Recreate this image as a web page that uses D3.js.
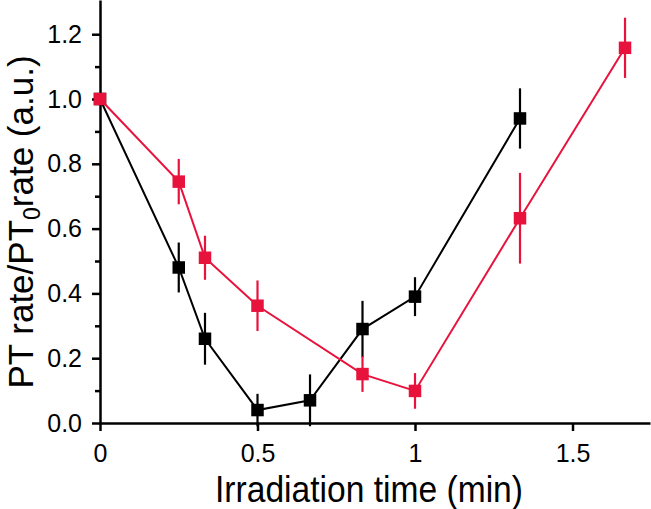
<!DOCTYPE html>
<html><head><meta charset="utf-8">
<script src="https://cdn.jsdelivr.net/npm/d3@7"></script>
<style>html,body{margin:0;padding:0;background:#fff;}svg{display:block;font-family:"Liberation Sans",Arial,sans-serif;}</style>
</head><body>
<svg id="c" width="651" height="509"></svg>
<script>
const blackX = [0, 0.25, 0.3333, 0.5, 0.6667, 0.8333, 1.0, 1.3333];
const blackY = [1.0, 0.48, 0.26, 0.04, 0.07, 0.29, 0.39, 0.94];
const blackErr = [0, 0.077, 0.08, 0.05, 0.08, 0.087, 0.06, 0.093];
const redX = [0, 0.25, 0.3333, 0.5, 0.8333, 1.0, 1.3333, 1.6667];
const redY = [1.0, 0.745, 0.51, 0.362, 0.151, 0.099, 0.632, 1.158];
const redErr = [0, 0.07, 0.068, 0.078, 0.055, 0.055, 0.14, 0.093];
const xTicks = [0, 0.5, 1, 1.5];
const xTickLabels = ["0", "0.5", "1", "1.5"];
const yTicks = [0, 0.2, 0.4, 0.6, 0.8, 1.0, 1.2];
const yMinorTicks = [0.1, 0.3, 0.5, 0.7, 0.9, 1.1];

const svg = d3.select("#c");
const L = 100, R = 650, T = 0, B = 423;
const x = d3.scaleLinear().domain([0, 1.746]).range([L, R]);
const y = d3.scaleLinear().domain([0, 1.3056]).range([B, T]);

// axes
const xa = svg.append("g").attr("transform", `translate(0,${B})`)
  .call(d3.axisBottom(x).tickValues(xTicks).tickFormat((d,i)=>xTickLabels[i]).tickSize(8).tickPadding(13).tickSizeOuter(0));
const ya = svg.append("g").attr("transform", `translate(${L},0)`)
  .call(d3.axisLeft(y).tickValues(yTicks).tickFormat(d3.format(".1f")).tickSize(8).tickPadding(10).tickSizeOuter(0));
svg.append("g").attr("transform", `translate(${L},0)`)
  .call(d3.axisLeft(y).tickValues(yMinorTicks).tickFormat("").tickSize(5).tickSizeOuter(0))
  .select(".domain").remove();
svg.selectAll(".domain").attr("stroke", "#000").attr("stroke-width", 2.5);
svg.selectAll(".tick line").attr("stroke", "#000").attr("stroke-width", 2.5);
svg.selectAll(".tick text").style("font-size", "25px").attr("fill", "#000")
  .style("font-family", "'Liberation Sans',Arial,sans-serif");
xa.selectAll(".tick text").attr("dy", "0.71em");

function series(xs, ys, es, color) {
  const pts = xs.map((d,i)=>({x:d, y:ys[i], e:es[i]}));
  const g = svg.append("g");
  g.append("path").datum(pts)
    .attr("d", d3.line().x(d=>x(d.x)).y(d=>y(d.y)))
    .attr("fill", "none").attr("stroke", color).attr("stroke-width", 2);
  g.selectAll("line.err").data(pts.filter(d=>d.e>0)).join("line")
    .attr("x1", d=>x(d.x)).attr("x2", d=>x(d.x))
    .attr("y1", d=>y(d.y - d.e)).attr("y2", d=>y(d.y + d.e))
    .attr("stroke", color).attr("stroke-width", 2.2);
  const s = 12.5;
  g.selectAll("rect").data(pts).join("rect")
    .attr("x", d=>x(d.x)-s/2).attr("y", d=>y(d.y)-s/2)
    .attr("width", s).attr("height", s).attr("fill", color);
}
series(blackX, blackY, blackErr, "#000");
series(redX, redY, redErr, "#e8133d");

// axis titles
svg.append("text").attr("x", 369).attr("y", 502).attr("text-anchor", "middle")
  .style("font-size", "36px").attr("fill", "#000")
  .attr("textLength", 308).attr("lengthAdjust", "spacingAndGlyphs")
  .text("Irradiation time (min)");
const yl = svg.append("text").attr("transform", "translate(33,222) rotate(-90)")
  .attr("text-anchor", "middle").style("font-size", "35px").attr("fill", "#000");
yl.append("tspan").text("PT rate/PT");
yl.append("tspan").style("font-size", "23px").attr("dy", 7).text("0");
yl.append("tspan").attr("dy", -7).text("rate (a.u.)");
</script>
</body></html>
